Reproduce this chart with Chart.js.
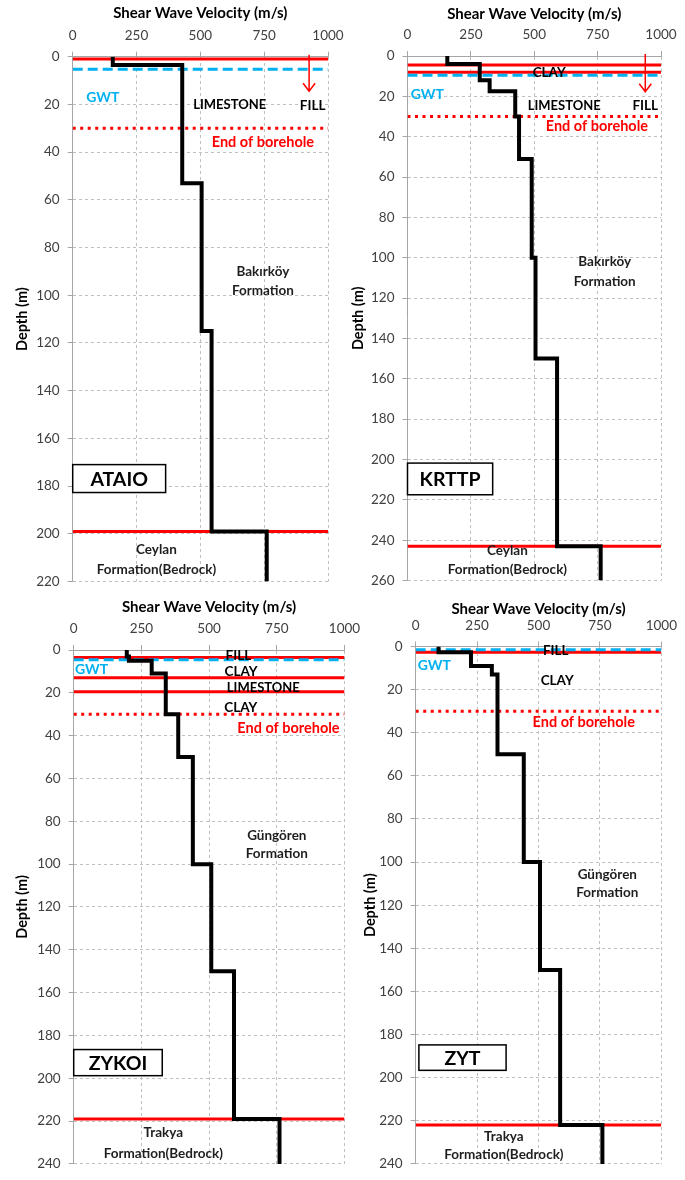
<!DOCTYPE html>
<html>
<head>
<meta charset="utf-8">
<script src="https://cdn.jsdelivr.net/npm/chart.js@4.4.1/dist/chart.umd.min.js"></script>
<style>
  html, body { margin: 0; padding: 0; background: #ffffff; }
  #wrap { position: relative; width: 685px; height: 1180px; overflow: hidden; }
  #wrap canvas { position: absolute; left: 0; top: 0; }
</style>
</head>
<body>
<div id="wrap">
  <canvas id="ataio" width="685" height="1180"></canvas>
  <canvas id="krttp" width="685" height="1180"></canvas>
  <canvas id="zykoi" width="685" height="1180"></canvas>
  <canvas id="zyt" width="685" height="1180"></canvas>
</div>
<script>
// ---- Shear-wave velocity profiles (layer boundaries in m, Vs in m/s) ----
const velocityTicks = [0, 250, 500, 750, 1000];

const ataioDepths = [0, 3.5, 53, 115, 199, 220];
const ataioVs = [157, 429, 505, 544, 760];
const ataioContacts = [1, 199];
const ataioGwt = [5.3];
const ataioBoreholeEnd = [30];

const krttpDepths = [0, 4, 12, 17.5, 30, 51, 100, 150, 243, 260];
const krttpVs = [157, 285, 324, 425, 440, 490, 505, 590, 762];
const krttpContacts = [4.5, 8, 243];
const krttpGwt = [9.6];
const krttpBoreholeEnd = [30];

const zykoiDepths = [0, 3, 5, 11, 30, 50, 100, 150, 219, 240];
const zykoiVs = [196, 204, 288, 340, 386, 440, 508, 592, 760];
const zykoiContacts = [3.5, 13, 19.5, 219];
const zykoiGwt = [4.6];
const zykoiBoreholeEnd = [30];

const zytDepths = [0, 2.7, 9, 13, 50, 100, 150, 222, 240];
const zytVs = [93, 225, 310, 333, 440, 506, 588, 760];
const zytContacts = [2.7, 222];
const zytGwt = [1.5];
const zytBoreholeEnd = [30];

const RED = '#FF0000';
const BLUE = '#00B0F0';
const FORMATION = '#1E1E1E';
const FONT = 'Lato, "Open Sans", sans-serif';

Chart.defaults.font.family = FONT;

// staircase profile: each layer drawn as a vertical segment, joined by horizontal steps
function stepProfile(depths, vs) {
  const pts = [];
  vs.forEach((v, i) => {
    pts.push({ x: v, y: depths[i] });
    pts.push({ x: v, y: depths[i + 1] });
  });
  return pts;
}

function levelLine(depth) {
  return [{ x: 0, y: depth }, { x: 1000, y: depth }];
}

// text labels, station box and the fill arrow, placed in data units
const notesPlugin = {
  id: 'notes',
  afterDatasetsDraw(chart, args, opts) {
    const { ctx } = chart;
    const xs = chart.scales.x, ys = chart.scales.y;
    ctx.save();
    if (opts.arrow) {
      const a = opts.arrow;
      const px = xs.getPixelForValue(a.v);
      const p0 = ys.getPixelForValue(a.from);
      const p1 = ys.getPixelForValue(a.to);
      ctx.strokeStyle = RED;
      ctx.lineWidth = 1.5;
      ctx.beginPath();
      ctx.moveTo(px, p0 - 2);
      ctx.lineTo(px, p1);
      ctx.moveTo(px - 6, p1 - 8);
      ctx.lineTo(px, p1);
      ctx.lineTo(px + 6, p1 - 8);
      ctx.stroke();
    }
    (opts.items || []).forEach(n => {
      ctx.font = 'bold ' + (n.size || 13) + 'px ' + FONT;
      ctx.fillStyle = n.color || '#000000';
      ctx.textAlign = 'center';
      ctx.textBaseline = 'middle';
      ctx.fillText(n.text, xs.getPixelForValue(n.v), ys.getPixelForValue(n.d));
    });
    if (opts.box) {
      const b = opts.box;
      const x0 = xs.getPixelForValue(b.v0), x1 = xs.getPixelForValue(b.v1);
      const y0 = ys.getPixelForValue(b.d0), y1 = ys.getPixelForValue(b.d1);
      ctx.fillStyle = '#ffffff';
      ctx.fillRect(x0, y0, x1 - x0, y1 - y0);
      ctx.strokeStyle = '#000000';
      ctx.lineWidth = 1.5;
      ctx.strokeRect(x0, y0, x1 - x0, y1 - y0);
      ctx.fillStyle = '#000000';
      ctx.font = 'bold 19.5px ' + FONT;
      ctx.textAlign = 'center';
      ctx.textBaseline = 'middle';
      ctx.fillText(b.text, (x0 + x1) / 2, (y0 + y1) / 2 + 1);
    }
    ctx.restore();
  }
};

function buildPanel(cfg) {
  const datasets = [];
  datasets.push({
    data: stepProfile(cfg.depths, cfg.vs),
    borderColor: '#000000', borderWidth: 4,
    borderCapStyle: 'butt', borderJoinStyle: 'miter',
    showLine: true, pointRadius: 0, tension: 0
  });
  cfg.gwt.forEach(d => datasets.push({
    data: levelLine(d), borderColor: BLUE, borderWidth: 3,
    borderDash: [10, 5], showLine: true, pointRadius: 0
  }));
  cfg.contacts.forEach(d => datasets.push({
    data: levelLine(d), borderColor: RED, borderWidth: 3,
    showLine: true, pointRadius: 0
  }));
  cfg.boreholeEnd.forEach(d => datasets.push({
    data: levelLine(d), borderColor: RED, borderWidth: 3,
    borderDash: [3, 4.5], showLine: true, pointRadius: 0
  }));

  const [L, T, R, B] = cfg.area;
  const yBox = 62, xBox = 54;
  const gridStyle = {
    color: '#BFBFBF', lineWidth: 1, drawTicks: true, tickLength: 5,
    tickColor: '#A6A6A6', tickBorderDash: []
  };
  const borderStyle = { display: true, color: '#A6A6A6', width: 1, dash: [3, 3] };

  return new Chart(document.getElementById(cfg.id), {
    type: 'scatter',
    data: { datasets },
    plugins: [notesPlugin],
    options: {
      responsive: false,
      animation: false,
      layout: {
        autoPadding: false,
        padding: { left: L - yBox, top: T - xBox, right: 685 - R, bottom: 1180 - B }
      },
      plugins: {
        legend: { display: false },
        tooltip: { enabled: false },
        notes: cfg.notes
      },
      scales: {
        x: {
          type: 'linear', position: 'top', min: 0, max: 1000,
          afterBuildTicks: s => { s.ticks = velocityTicks.map(v => ({ value: v })); },
          afterFit: s => { s.height = xBox; },
          grid: gridStyle,
          border: borderStyle,
          ticks: {
            color: '#404040', font: { size: 13.5 }, padding: 8, maxRotation: 0,
            callback: v => String(v)
          },
          title: {
            display: true, text: 'Shear Wave Velocity (m/s)', color: '#000000',
            font: { size: 15, weight: 'bold' },
            padding: { top: Math.max(0, xBox - cfg.xTitleGap - 9), bottom: 0 }
          }
        },
        y: {
          type: 'linear', reverse: true, min: 0, max: cfg.maxDepth,
          ticks: { stepSize: 20, color: '#404040', font: { size: 13.5 }, padding: 8 },
          afterFit: s => { s.width = yBox; },
          grid: gridStyle,
          border: borderStyle,
          title: {
            display: true, text: 'Depth (m)', color: '#000000',
            font: { size: 14.5, weight: 'bold' },
            padding: { top: Math.max(0, yBox - cfg.yTitleGap - 8.7), bottom: 0 }
          }
        }
      }
    }
  });
}

buildPanel({
  id: 'ataio', area: [72.7, 56.7, 328, 581.5], maxDepth: 220,
  xTitleGap: 43.5, yTitleGap: 50.5,
  depths: ataioDepths, vs: ataioVs, contacts: ataioContacts,
  gwt: ataioGwt, boreholeEnd: ataioBoreholeEnd,
  notes: {
    arrow: { v: 926, from: 0, to: 14.5 },
    items: [
      { text: 'GWT', v: 118, d: 17, color: BLUE, size: 14 },
      { text: 'LIMESTONE', v: 615, d: 20 },
      { text: 'FILL', v: 940, d: 20.7, size: 13.5 },
      { text: 'End of borehole', v: 745, d: 35.7, color: RED, size: 14.5 },
      { text: 'Bakırköy', v: 745, d: 90, color: FORMATION, size: 13.5 },
      { text: 'Formation', v: 745, d: 98, color: FORMATION, size: 13.5 },
      { text: 'Ceylan', v: 328, d: 206.8, color: FORMATION, size: 13.5 },
      { text: 'Formation(Bedrock)', v: 328, d: 215, color: FORMATION, size: 13.5 }
    ],
    box: { text: 'ATAIO', v0: 0, v1: 364, d0: 171, d1: 182.7 }
  }
});

buildPanel({
  id: 'krttp', area: [407.5, 56, 661, 580.5], maxDepth: 260,
  xTitleGap: 42, yTitleGap: 49,
  depths: krttpDepths, vs: krttpVs, contacts: krttpContacts,
  gwt: krttpGwt, boreholeEnd: krttpBoreholeEnd,
  notes: {
    arrow: { v: 938, from: 0, to: 17.7 },
    items: [
      { text: 'CLAY', v: 559, d: 8.1, size: 13.5 },
      { text: 'GWT', v: 78, d: 19, color: BLUE, size: 14 },
      { text: 'LIMESTONE', v: 618, d: 24.5 },
      { text: 'FILL', v: 938, d: 24.8, size: 13.5 },
      { text: 'End of borehole', v: 747, d: 34.7, color: RED, size: 14.5 },
      { text: 'Bakırköy', v: 778, d: 102, color: FORMATION, size: 13.5 },
      { text: 'Formation', v: 778, d: 111.7, color: FORMATION, size: 13.5 },
      { text: 'Ceylan', v: 394, d: 245, color: FORMATION, size: 13.5 },
      { text: 'Formation(Bedrock)', v: 394, d: 254.6, color: FORMATION, size: 13.5 }
    ],
    box: { text: 'KRTTP', v0: 0, v1: 336, d0: 201.8, d1: 217.5 }
  }
});

buildPanel({
  id: 'zykoi', area: [73.7, 650, 344.5, 1173], maxDepth: 240,
  xTitleGap: 43.3, yTitleGap: 51.5,
  depths: zykoiDepths, vs: zykoiVs, contacts: zykoiContacts,
  gwt: zykoiGwt, boreholeEnd: zykoiBoreholeEnd,
  notes: {
    items: [
      { text: 'FILL', v: 608, d: 2.8, size: 13.5 },
      { text: 'CLAY', v: 618, d: 9.9, size: 13.5 },
      { text: 'LIMESTONE', v: 700, d: 17.6 },
      { text: 'CLAY', v: 617, d: 26.8, size: 13.5 },
      { text: 'End of borehole', v: 793, d: 36.7, color: RED, size: 14.5 },
      { text: 'GWT', v: 66, d: 9.2, color: BLUE, size: 14 },
      { text: 'Güngören', v: 750, d: 86.7, color: FORMATION, size: 13.5 },
      { text: 'Formation', v: 750, d: 95.1, color: FORMATION, size: 13.5 },
      { text: 'Trakya', v: 331, d: 225.6, color: FORMATION, size: 13.5 },
      { text: 'Formation(Bedrock)', v: 331, d: 235.2, color: FORMATION, size: 13.5 }
    ],
    box: { text: 'ZYKOI', v0: 0, v1: 327, d0: 186.6, d1: 198.8 }
  }
});

buildPanel({
  id: 'zyt', area: [415.7, 646.5, 669, 1169.5], maxDepth: 240,
  xTitleGap: 37.5, yTitleGap: 45,
  depths: zytDepths, vs: zytVs, contacts: zytContacts,
  gwt: zytGwt, boreholeEnd: zytBoreholeEnd,
  notes: {
    items: [
      { text: 'FILL', v: 570, d: 2.1, size: 13.5 },
      { text: 'CLAY', v: 576, d: 15.8, size: 13.5 },
      { text: 'End of borehole', v: 684, d: 35.2, color: RED, size: 14.5 },
      { text: 'GWT', v: 76, d: 8.9, color: BLUE, size: 14 },
      { text: 'Güngören', v: 780, d: 105.6, color: FORMATION, size: 13.5 },
      { text: 'Formation', v: 780, d: 114.3, color: FORMATION, size: 13.5 },
      { text: 'Trakya', v: 359, d: 227.2, color: FORMATION, size: 13.5 },
      { text: 'Formation(Bedrock)', v: 359, d: 235.9, color: FORMATION, size: 13.5 }
    ],
    box: { text: 'ZYT', v0: 13, v1: 368, d0: 184.8, d1: 196.6 }
  }
});
</script>
</body>
</html>
